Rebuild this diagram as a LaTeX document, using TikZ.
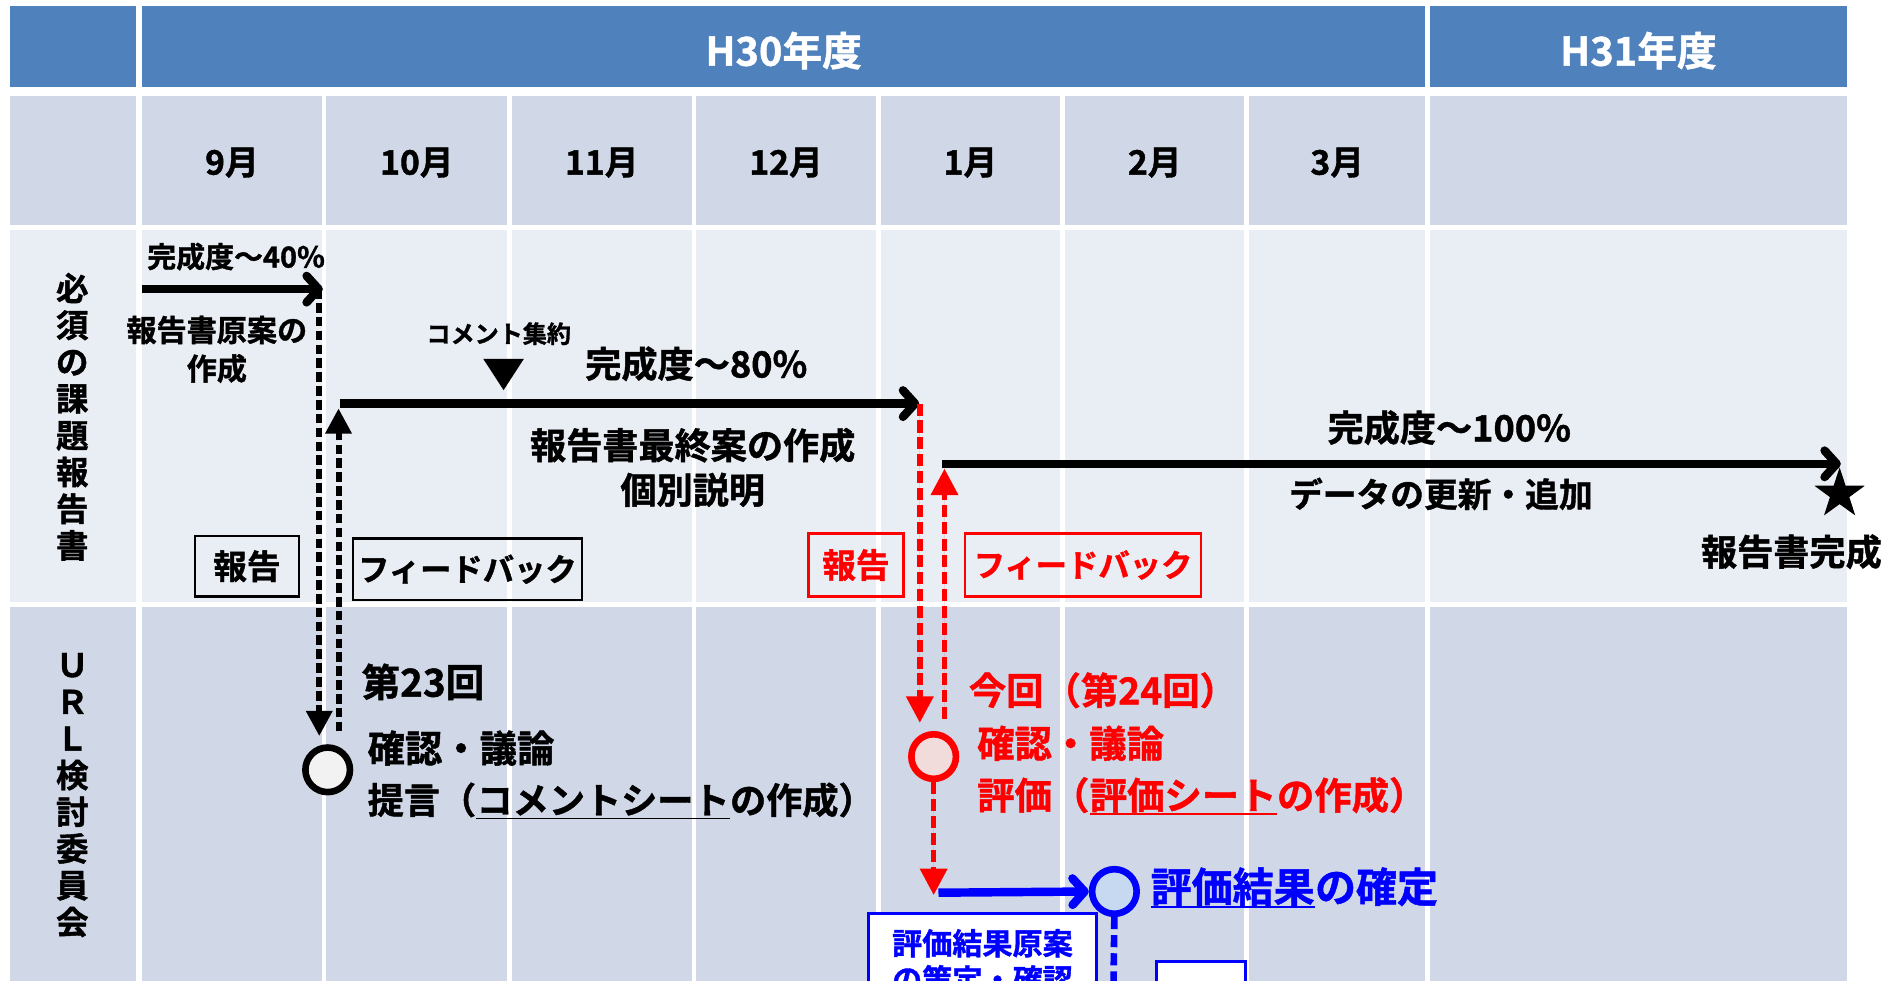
\documentclass[tikz,border=0pt]{standalone}
\usepackage{fontspec}
\setmainfont{Noto Sans CJK JP}[BoldFont={Noto Sans CJK JP Bold},BoldFeatures={FakeBold=1.2}]
\usetikzlibrary{arrows.meta,shapes.geometric}
\definecolor{hdrblue}{HTML}{4F81BD}
\definecolor{cellA}{HTML}{D0D8E8}
\definecolor{cellB}{HTML}{E9EDF4}
\definecolor{myred}{HTML}{FF0000}
\definecolor{myblue}{HTML}{0000FF}
\definecolor{pinkfill}{HTML}{F2DCDB}
\definecolor{bluefill}{HTML}{C6D9F1}
\definecolor{grayfill}{HTML}{F2F2F2}
\newcommand{\jfs}[2]{\bfseries\fontsize{#1}{#2}\selectfont}
\begin{document}
\begin{tikzpicture}[x=1pt,y=-1pt,
  txt/.style={inner sep=0pt,font=\jfs{#1}{#1}},
  hdr/.style={inner sep=0pt,text=white,font=\jfs{33}{33}},
  month/.style={inner sep=0pt,font=\jfs{28}{28}},
  mainarrow/.style={line width=7pt,-{Straight Barb[length=10pt,width=22pt,round]}},
  bluearrow/.style={mainarrow,draw=myblue},
  blkdash/.style={line width=5pt,dash pattern=on 8pt off 3.5pt,-{Triangle[length=21pt,width=21pt]}},
  reddash/.style={draw=myred,fill=myred,line width=4.5pt,dash pattern=on 10pt off 4pt,-{Triangle[length=22pt,width=22pt]}},
  bluedash/.style={draw=myblue,line width=5.5pt,dash pattern=on 10pt off 5pt},
  event/.style={circle,minimum size=37pt,inner sep=0pt,line width=5.5pt},
  tagbox/.style={draw,line width=2pt,inner sep=0pt,font=\jfs{28}{28}},
  uline/.style={line width=1.6pt}
]
\useasboundingbox (0,0) rectangle (1568,814);
\fill[white] (0,0) rectangle (1568,814);

% ---- header row ----
\fill[hdrblue] (8,5) rectangle (113,72);
\fill[hdrblue] (118,5) rectangle (1183,72);
\fill[hdrblue] (1187,5) rectangle (1533,72);
\node[hdr] (h30) at (650.5,42) {H30年度};
\node[hdr] (h31) at (1360,42) {H31年度};

% ---- body rows ----
\foreach \ya/\yb/\c in {80/187/cellA,191/500/cellB,504/840/cellA}{
  \fill[\c] (8,\ya) rectangle (113,\yb);
  \foreach \xa/\xb in {118/267,271/421,425/574,578/727,731/880,884/1033,1037/1183,1187/1533}
    \fill[\c] (\xa,\ya) rectangle (\xb,\yb);
}

% ---- months ----
\foreach \xc/\m [count=\i] in {192.5/9,346/10,499.5/11,652.5/12,805.5/1,958.5/2,1110/3}
  \node[month] (m\i) at (\xc,135) {\m 月};

% ---- row labels ----
\node[inner sep=0pt,align=center,font=\jfs{27}{30.5}] (lab1) at (60,346) {必\\須\\の\\課\\題\\報\\告\\書};
\node[inner sep=0pt,align=center,font=\jfs{27}{30.5}] (lab2) at (60,660) {Ｕ\\Ｒ\\Ｌ\\検\\討\\委\\員\\会};

% ---- coordinates ----
\coordinate (a1s) at (118,240);
\coordinate (a1e) at (268,240);
\coordinate (d1s) at (265,240);
\coordinate (d1e) at (265,611);
\coordinate (u1s) at (281,607);
\coordinate (u1e) at (281,339);
\coordinate (a2s) at (282,335);
\coordinate (a2e) at (763,335);
\coordinate (d2s) at (763.5,335);
\coordinate (d2e) at (763.5,600);
\coordinate (u2s) at (784,597);
\coordinate (u2e) at (784,389);
\coordinate (a3s) at (782,385);
\coordinate (a3e) at (1528,385);
\coordinate (d3e) at (775,743);
\coordinate (a4s) at (779,741);
\coordinate (b1e) at (924,840);

% ---- events ----
\node[event,draw=black,fill=grayfill] (c23) at (272,639) {};
\node[event,draw=myred,fill=pinkfill] (c24) at (775,628) {};
\node[event,draw=myblue,fill=bluefill] (cfix) at (925,740) {};

% ---- first phase ----
\node[txt=24] (t40) at (196,213) {完成度～40\%};
\draw[mainarrow] (a1s) -- (a1e);
\node[inner sep=0pt,align=center,font=\jfs{25}{32}] (tdraft) at (180,290) {報告書原案の\\作成};
\draw[blkdash] (d1s) -- (d1e);
\draw[blkdash] (u1s) -- (u1e);
\node[tagbox,minimum width=86pt,minimum height=50pt] (rep1) at (205,470) {報告};
\node[tagbox,minimum width=190pt,minimum height=51pt,font=\jfs{26}{26}] (fb1) at (388,472.5) {フィードバック};

% ---- second phase ----
\node[txt=20] (tcom) at (414,277) {コメント集約};
\node[draw=none,fill=black,isosceles triangle,isosceles triangle apex angle=66,shape border rotate=-90,inner sep=0pt,minimum height=26pt,minimum width=33pt] (tri) at (418,307) {};
\node[txt=30] (t80) at (578,302) {完成度～80\%};
\draw[mainarrow] (a2s) -- (a2e);
\node[inner sep=0pt,align=center,font=\jfs{30}{37}] (tfinal) at (575,388) {報告書最終案の作成\\個別説明};
\draw[reddash] (d2s) -- (d2e);
\draw[reddash] (u2s) -- (u2e);
\node[tagbox,draw=myred,text=myred,minimum width=79pt,minimum height=52pt] (rep2) at (710.5,469) {報告};
\node[tagbox,draw=myred,text=myred,minimum width=196pt,minimum height=52pt,font=\jfs{26}{26}] (fb2) at (899,469) {フィードバック};

% ---- third phase ----
\node[txt=30] (t100) at (1203,355) {完成度～100\%};
\draw[mainarrow] (a3s) -- (a3e);
\node[txt=28] (tdata) at (1196,410) {データの更新・追加};
\node[star,star points=5,star point ratio=2.6,fill=black,inner sep=0pt,minimum size=44pt] (star) at (1527,410) {};
\node[txt=30] (tdone) at (1487,458) {報告書完成};

% ---- committee 23 ----
\node[txt=32,anchor=west] (k23) at (300,566) {第23回};
\node[txt=31,anchor=west] (k23a) at (305,621) {確認・議論};
\node[txt=30,anchor=west] (k23b) at (305,664) {提言（};
\node[txt=30,anchor=base west] (k23c) at (k23b.base east) {コメントシート};
\node[txt=30,anchor=base west] (k23d) at (k23c.base east) {の作成）};
\draw[uline] ([yshift=-4pt]k23c.base west) -- ([yshift=-4pt]k23c.base east);

% ---- committee 24 ----
\node[txt=31,anchor=west,text=myred] (k24) at (804,573) {今回（第24回）};
\node[txt=31,anchor=west,text=myred] (k24a) at (811,617) {確認・議論};
\node[txt=31,anchor=west,text=myred] (k24b) at (811,660) {評価（};
\node[txt=31,anchor=base west,text=myred] (k24c) at (k24b.base east) {評価シート};
\node[txt=31,anchor=base west,text=myred] (k24d) at (k24c.base east) {の作成）};
\draw[uline,myred] ([yshift=-4pt]k24c.base west) -- ([yshift=-4pt]k24c.base east);

\draw[reddash] (c24.south) -- (d3e);
\draw[bluearrow] (a4s) -- (cfix.west);

\node[txt=34,anchor=west,text=myblue] (kfa) at (955,736) {評価結果};
\node[txt=34,anchor=base west,text=myblue] (kfb) at (kfa.base east) {の確定};
\draw[uline,myblue] ([yshift=-4pt]kfa.base west) -- ([yshift=-4pt]kfa.base east);

\draw[bluedash] (cfix.south) -- (b1e);
\node[draw=myblue,fill=white,line width=2.5pt,inner sep=0pt,minimum width=189pt,minimum height=80pt,align=center,text=myblue,font=\jfs{25}{30}] (bx1) at (815.5,798) {評価結果原案\\の策定・確認};
\node[draw=myblue,fill=white,line width=2.5pt,inner sep=0pt,minimum width=74pt,minimum height=56pt,text=myblue,font=\jfs{22}{22}] (bx2) at (997,826) {報告};
\end{tikzpicture}
\end{document}
